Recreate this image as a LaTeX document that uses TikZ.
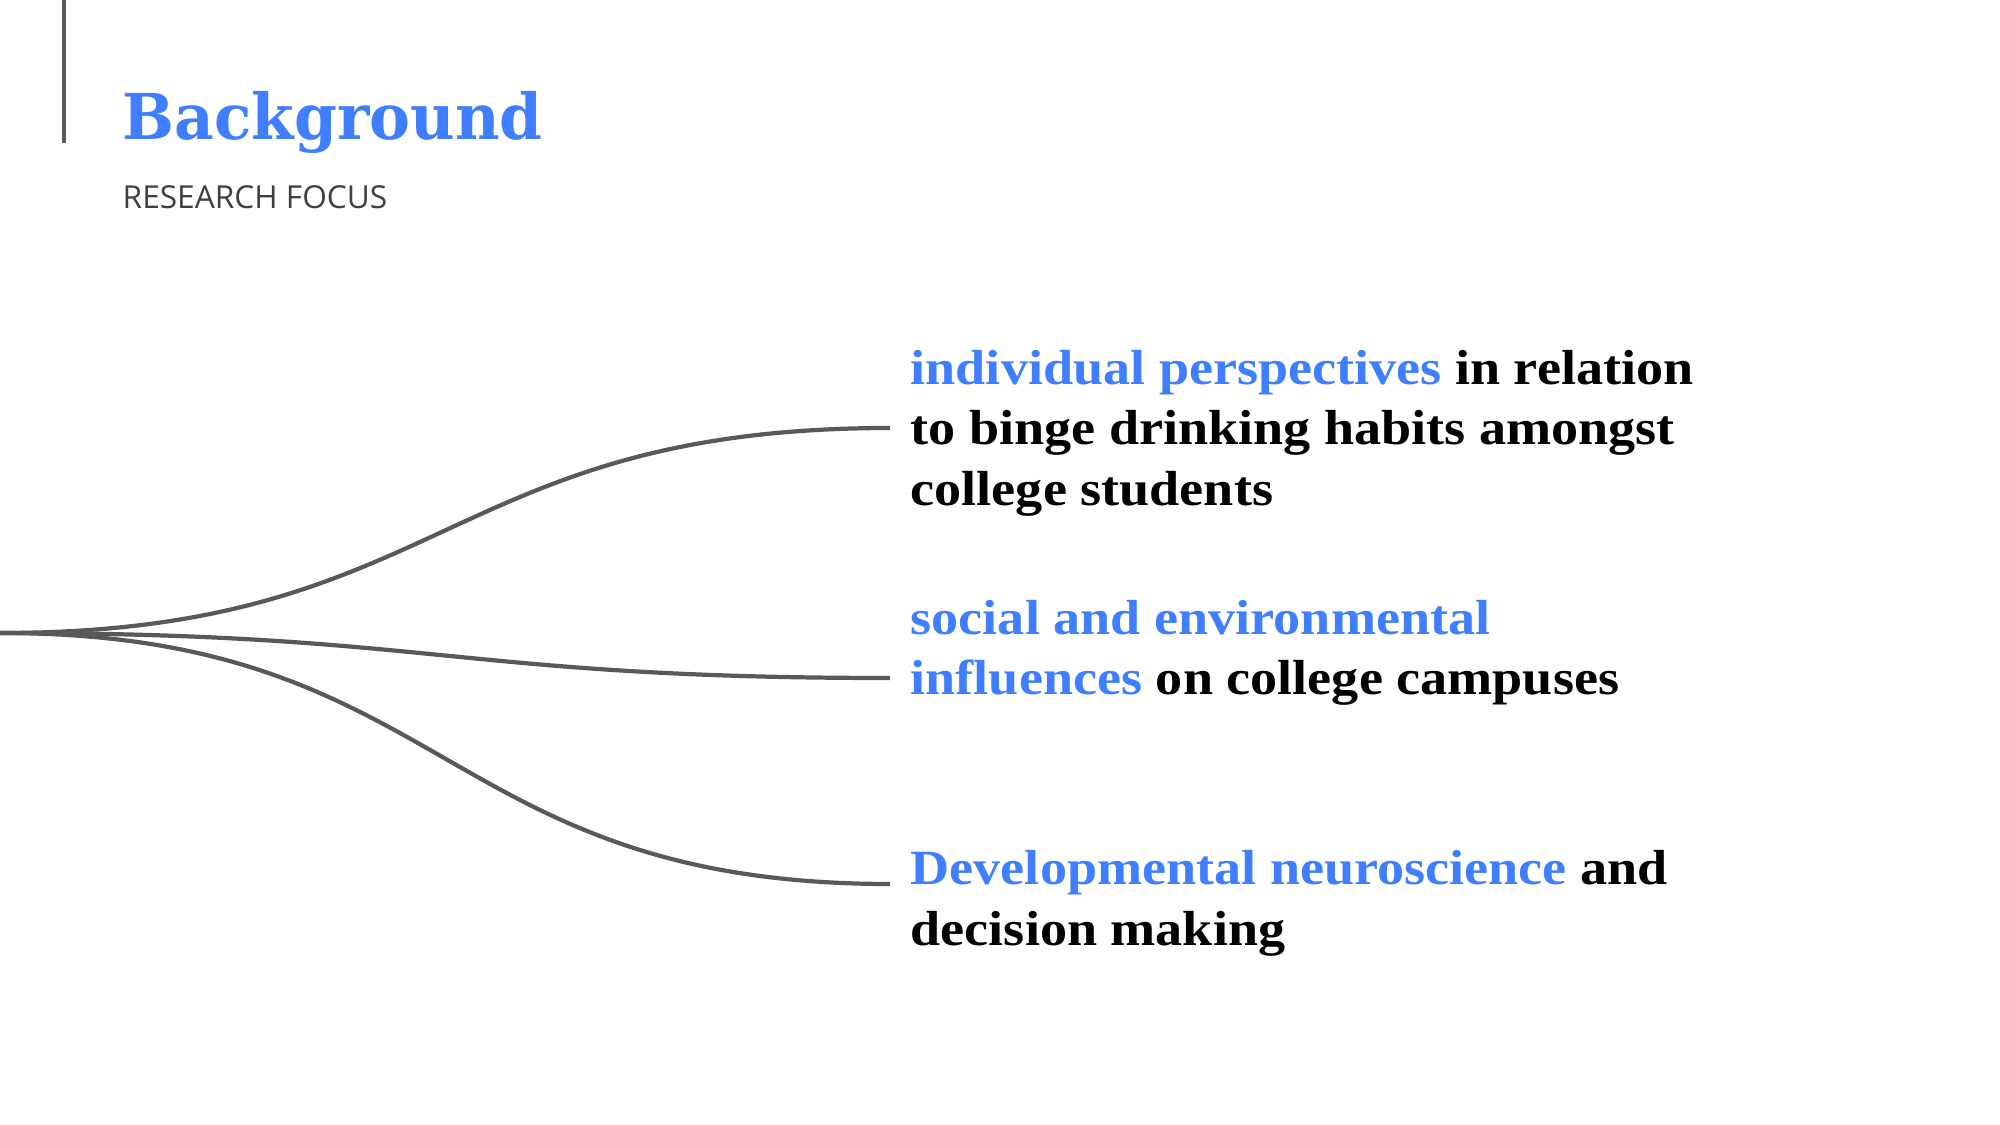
\documentclass[tikz,border=0pt]{standalone}
\usepackage{fontspec}
\setmainfont{Liberation Serif}[FakeStretch=1.1]
\newfontfamily\titlefont{DejaVu Serif}[FakeStretch=0.97]
\newfontfamily\capsfont{Open Sans}
\definecolor{accent}{HTML}{3F7FFF}
\definecolor{linegray}{HTML}{595959}
\definecolor{subgray}{HTML}{404040}
\newcommand{\hl}[1]{\textcolor{accent}{#1}}

\begin{document}
\begin{tikzpicture}[
    x=0.01cm, y=-0.01cm,
    title/.style={inner sep=0, anchor=base west, text=accent, font=\titlefont\bfseries\fontsize{18}{20}\selectfont},
    subtitle/.style={inner sep=0, anchor=base west, text=subgray, font=\capsfont\fontsize{9}{10}\selectfont},
    item/.style={inner sep=0, anchor=north west, align=left, font=\bfseries\fontsize{14}{17.1}\selectfont},
    branch/.style={draw=linegray, line width=1.2pt, out=0, in=180, looseness=1.25},
    bar/.style={draw=linegray, line width=1.1pt},
]
    \useasboundingbox (0,0) rectangle (2000,1125);

    % Header
    \draw[bar] (64,0) -- (64,143);
    \node[title] (title) at (122,140) {Background};
    \node[subtitle] (subtitle) at (122,209) {RESEARCH FOCUS};

    % Focus items
    \node[item] (focus1) at (910,350) {\hl{individual perspectives} in relation\\to binge drinking habits amongst\\college students};
    \node[item] (focus2) at (910,600) {\hl{social and environmental}\\\hl{influences} on college campuses};
    \node[item] (focus3) at (910,850) {\hl{Developmental neuroscience} and\\decision making};

    % Branches
    \coordinate (root) at (0,633);
    \coordinate (end1) at (890,428);
    \coordinate (end2) at (890,678);
    \coordinate (end3) at (890,884);
    \draw[branch] (root) to (end1);
    \draw[branch] (root) to (end2);
    \draw[branch] (root) to (end3);
\end{tikzpicture}
\end{document}
